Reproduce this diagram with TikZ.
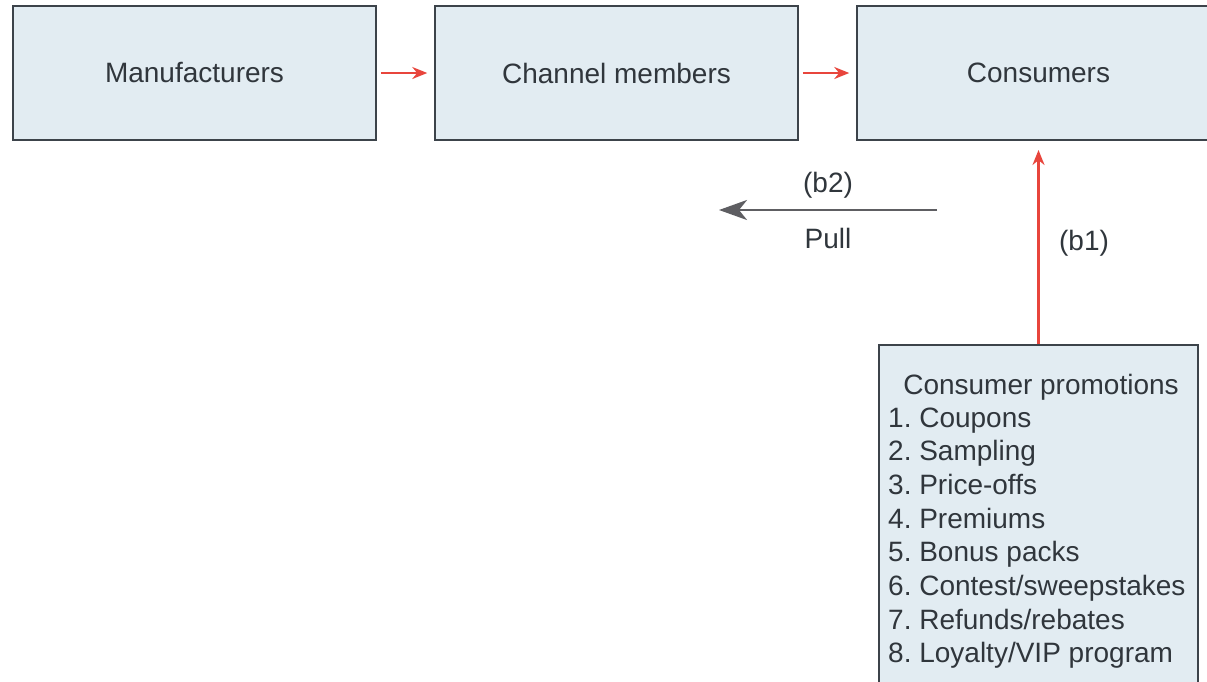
\documentclass[tikz,border=0pt]{standalone}
\usepackage{fontspec}
\setmainfont{Liberation Sans}
\usetikzlibrary{arrows.meta}
\definecolor{boxfill}{HTML}{E2ECF2}
\definecolor{boxline}{HTML}{3C434A}
\definecolor{txt}{HTML}{30363C}
\definecolor{redarr}{HTML}{E8453C}
\definecolor{grayarr}{HTML}{5E5E62}
\tikzset{
  box/.style={draw=boxline, line width=1.5pt, fill=boxfill, minimum width=363pt, minimum height=134pt, inner sep=0pt, text=txt, font=\fontsize{28}{33}\selectfont},
  redarrow/.style={draw=redarr, line width=2.2pt, -{Stealth[length=15pt,width=12pt]}},
  grayarrow/.style={draw=grayarr, line width=2.2pt, -{Stealth[length=28pt,width=20pt,inset=8pt]}},
  lbl/.style={text=txt, font=\fontsize{28}{33}\selectfont, inner sep=0pt},
  item/.style={text=txt, font=\fontsize{28}{33}\selectfont\frenchspacing, inner sep=0pt, anchor=base west}
}
\begin{document}
\begin{tikzpicture}[x=1pt,y=-1pt]
\useasboundingbox (0,0) rectangle (1207,681);
\clip (0,0) rectangle (1207,681);
\fill[white] (0,0) rectangle (1207,681);
\node[box] (man) at (194.5,73) {Manufacturers};
\node[box] (chan) at (616.5,73) {Channel members};
\node[box] (cons) at (1038.5,73) {Consumers};
\draw[redarrow, shorten <=4pt, shorten >=7pt] (man) -- (chan);
\draw[redarrow, shorten <=4pt, shorten >=7pt] (chan) -- (cons);
% pull arrow
\coordinate (pullstart) at (937,210);
\coordinate (pullend) at (719,210);
\draw[grayarrow] (pullstart) -- (pullend);
\node[lbl] (b2) at (828,185) {(b2)};
\node[lbl] (pull) at (828,238) {Pull};
% promotions box
\node[draw=boxline, line width=1.5pt, fill=boxfill, minimum width=319pt, minimum height=360pt, inner sep=0pt, anchor=north] (promo) at (1038.5,344) {};
\coordinate (b1end) at (1038.5,150);
\draw[redarrow] (promo.north) -- (b1end);
\node[lbl] (b1) at (1084,243) {(b1)};
\node[text=txt, font=\fontsize{28}{33}\selectfont, inner sep=0pt, anchor=base] (h) at (1041,394) {Consumer promotions};
\node[item] (i1) at (888,427) {1. Coupons};
\node[item] (i2) at (888,460.7) {2. Sampling};
\node[item] (i3) at (888,494.4) {3. Price-offs};
\node[item] (i4) at (888,528.1) {4. Premiums};
\node[item] (i5) at (888,561.8) {5. Bonus packs};
\node[item] (i6) at (888,595.5) {6. Contest/sweepstakes};
\node[item] (i7) at (888,629.2) {7. Refunds/rebates};
\node[item] (i8) at (888,662.9) {8. Loyalty/VIP program};
\end{tikzpicture}
\end{document}
